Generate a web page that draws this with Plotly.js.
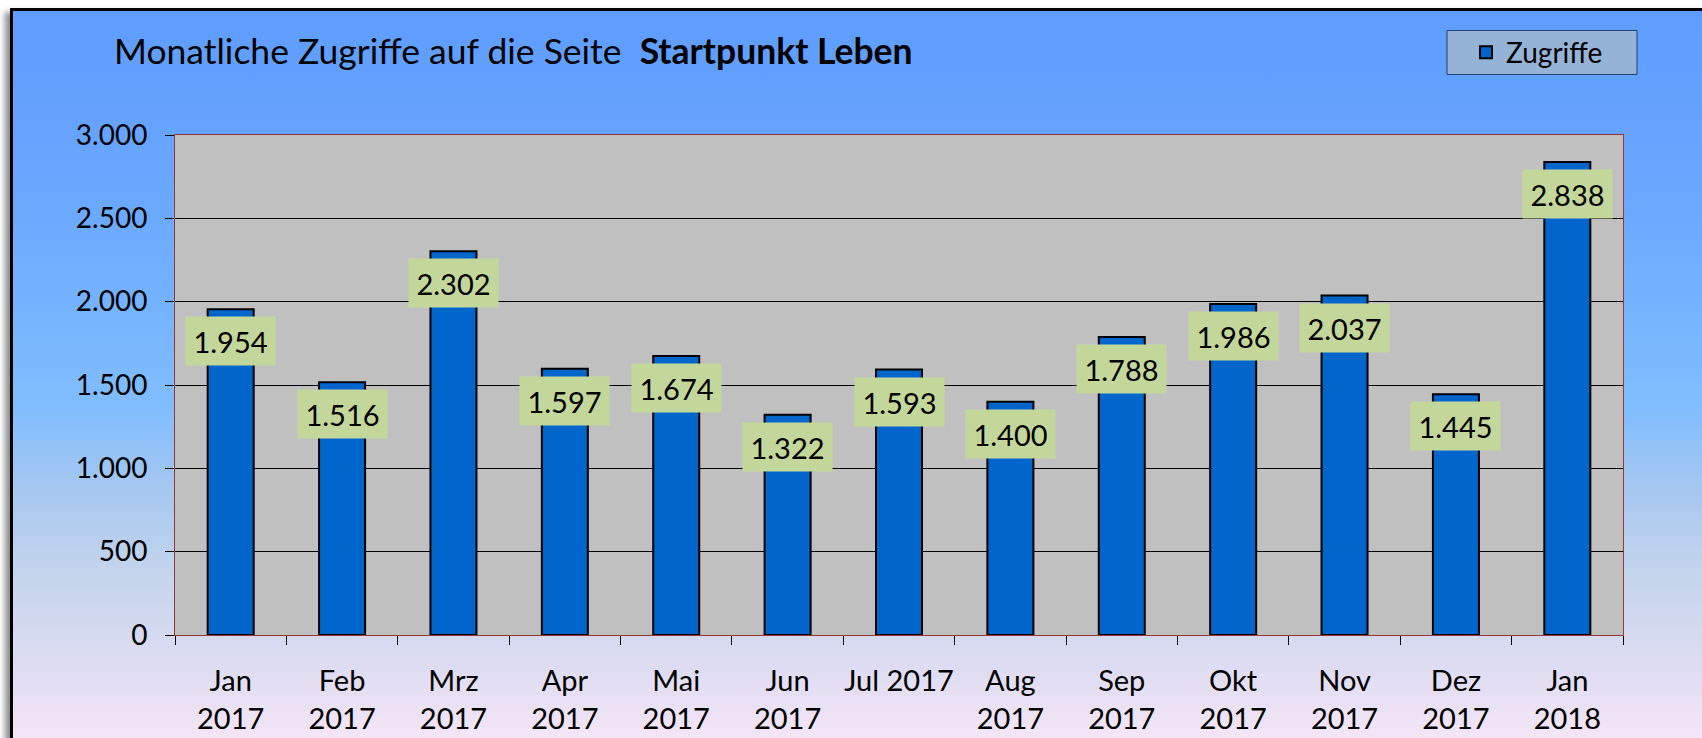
<!DOCTYPE html>
<html>
<head>
<meta charset="utf-8">
<script src="https://cdn.plot.ly/plotly-3.0.1.min.js"></script>
<style>
  html, body { margin: 0; padding: 0; background: #ffffff; width: 1702px; height: 738px; overflow: hidden; }
  #bg {
    position: absolute; left: 10px; top: 8px; width: 1720px; height: 760px;
    border-top: 3px solid #000; border-left: 3px solid #000;
    box-shadow: -5px 4px 6px rgba(0,0,0,0.45);
    background: linear-gradient(to bottom, #5e9cff 0%, #6aa8ff 25%, #80bdff 52%, #a6c7ef 63%, #c4d5ec 74%, #dddcf2 86%, #f8e6f8 97%, #f9e6f8 100%);
  }
  #chart { position: absolute; left: 0; top: 0; width: 1702px; height: 738px; }
</style>
</head>
<body>
<div id="bg"></div>
<div id="chart"></div>
<script>
const months = ['Jan<br>2017','Feb<br>2017','Mrz<br>2017','Apr<br>2017','Mai<br>2017','Jun<br>2017','Jul 2017','Aug<br>2017','Sep<br>2017','Okt<br>2017','Nov<br>2017','Dez<br>2017','Jan<br>2018'];
const zugriffe = [1954,1516,2302,1597,1674,1322,1593,1400,1788,1986,2037,1445,2838];
const seriesName = 'Zugriffe';
const titleText = 'Monatliche Zugriffe auf die Seite\u00a0\u00a0<b>Startpunkt Leben</b>';

function fmt(v){ return String(v).replace(/\B(?=(\d{3})+(?!\d))/g, '.'); }

const FONT = 'Lato, "Liberation Sans", Arial, sans-serif';

const trace = {
  type: 'bar',
  x: months,
  y: zugriffe,
  name: seriesName,
  marker: { color: '#0066cc', line: { color: '#000000', width: 2 } },
  hoverinfo: 'x+y'
};

const annotations = months.map((m, i) => ({
  x: m, y: zugriffe[i], xref: 'x', yref: 'y',
  text: fmt(zugriffe[i]),
  showarrow: false, yshift: -32,
  bgcolor: '#c4d79b', borderpad: 0, width: 89, height: 48,
  font: { family: FONT, size: 29, color: '#000' }
}));

// paper coords helpers for legend box (plot area x 175..1623, y 135..635)
const px = v => (v - 175) / 1448;
const py = v => (635 - v) / 500.4;

const layout = {
  width: 1702, height: 738,
  paper_bgcolor: 'rgba(0,0,0,0)',
  plot_bgcolor: '#c0c0c0',
  separators: ',.',
  margin: { l: 175, r: 79, t: 135, b: 103, autoexpand: false },
  bargap: 0.587,
  font: { family: FONT, color: '#000' },
  title: {
    text: titleText, xref: 'container', yref: 'container',
    x: 114 / 1702, xanchor: 'left', y: 1 - 52 / 738, yanchor: 'middle',
    font: { family: FONT, size: 35.5, color: '#000' }
  },
  xaxis: {
    type: 'category', tickson: 'boundaries', ticks: 'outside', ticklen: 9,
    tickcolor: '#000', tickwidth: 1, showline: true, linecolor: '#953735', linewidth: 1,
    mirror: true, showgrid: false, tickangle: 0, automargin: false,
    ticklabelstandoff: 20,
    tickfont: { family: FONT, size: 29, color: '#000' }
  },
  yaxis: {
    range: [0, 3000], dtick: 500, tickformat: ',', ticks: 'outside', ticklen: 9,
    tickcolor: '#000', tickwidth: 1, showline: true, linecolor: '#953735', linewidth: 1,
    mirror: true, showgrid: true, gridcolor: '#000', gridwidth: 1, zeroline: false,
    ticklabelstandoff: 12, automargin: false,
    tickfont: { family: FONT, size: 28, color: '#000' }
  },
  showlegend: true,
  legend: {
    x: px(1466), xanchor: 'left', y: py(52), yanchor: 'middle',
    bgcolor: 'rgba(0,0,0,0)', borderwidth: 0,
    font: { family: FONT, size: 28, color: '#000' }
  },
  shapes: [{
    type: 'rect', xref: 'paper', yref: 'paper',
    x0: px(1447), x1: px(1637), y0: py(74), y1: py(30),
    fillcolor: '#95b3d7', line: { color: '#24406b', width: 1 }, layer: 'below'
  }],
  annotations: annotations
};

Plotly.newPlot('chart', [trace], layout, { displayModeBar: false, staticPlot: true });
</script>
</body>
</html>
